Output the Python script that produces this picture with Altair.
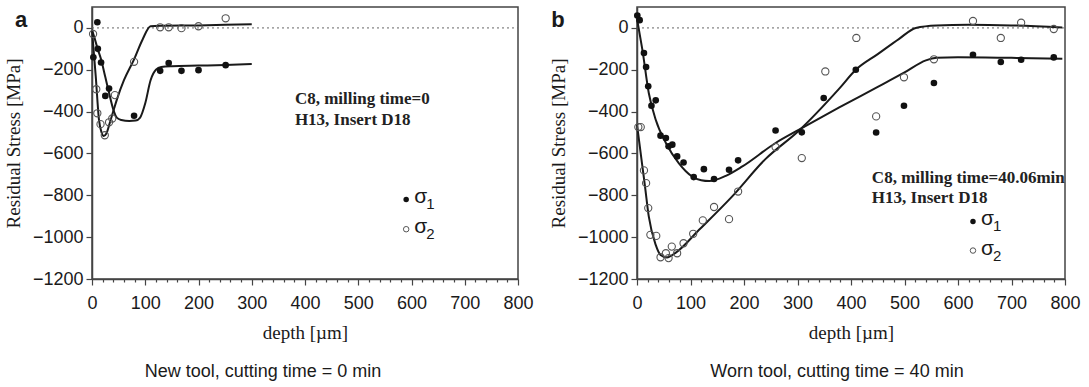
import altair as alt
import pandas as pd

# ---------------- Panel a: new tool ----------------
a_s1_depth = [2.5, 10, 11, 17, 25, 32, 79, 128, 144, 168, 200, 251]
a_s1_stress = [-140, 27, -100, -165, -325, -290, -420, -205, -168, -205, -202, -178]
a_s2_depth = [2, 8, 10, 16, 24, 32, 38, 43, 79, 128, 144, 168, 200, 251]
a_s2_stress = [-29, -293, -408, -460, -513, -451, -433, -321, -162, 3, 3, -1, 8, 46]

a_f1_depth = [0, 5, 10, 17, 25, 32, 40, 47, 55, 70, 82, 90, 100, 110, 120, 130, 150, 200, 250, 300]
a_f1_stress = [-10, -50, -95, -150, -235, -310, -390, -430, -440, -445, -443, -430, -360, -250, -200, -187, -183, -180, -177, -172]
a_f2_depth = [0, 7, 13, 18, 22, 27, 35, 47, 60, 79, 95, 110, 130, 200, 250, 300]
a_f2_stress = [-10, -230, -437, -500, -517, -505, -440, -340, -250, -150, -55, 8, 10, 12, 15, 18]

# ---------------- Panel b: worn tool ----------------
b_s1_depth = [0.6, 5, 13, 17, 21, 27, 35, 44, 54, 59, 66, 75, 87, 106, 125, 144, 172, 189,
              259, 308, 349, 409, 447, 499, 555, 628, 680, 718, 779]
b_s1_stress = [59, 37, -120, -187, -279, -372, -346, -515, -526, -566, -558, -614, -643, -713,
               -675, -722, -678, -633, -490, -499, -335, -200, -500, -372, -263, -128, -163, -152, -141]
b_s2_depth = [2.5, 7, 13, 17, 21, 25, 36, 44, 54, 59, 65, 75, 87, 105, 123, 144, 172, 189,
              259, 308, 352, 410, 447, 499, 555, 628, 680, 718, 779]
b_s2_stress = [-474, -474, -681, -742, -861, -989, -994, -1096, -1077, -1100, -1045, -1077, -1029,
               -984, -920, -856, -914, -782, -569, -622, -208, -48, -423, -236, -150, 33, -48, 25, -5]

b_f1_depth = [0, 5, 10, 22, 35, 54, 78, 103, 120, 135, 166, 197, 259, 303, 378, 450, 500, 540, 560, 600, 700, 795]
b_f1_stress = [45, -30, -104, -311, -439, -550, -646, -710, -728, -732, -707, -662, -550, -486,
               -380, -282, -213, -155, -143, -140, -143, -147]
b_f2_depth = [0, 10, 15, 22, 35, 44, 56, 72, 116, 178, 240, 303, 378, 409, 450, 490, 521, 560, 620, 700, 795]
b_f2_stress = [-462, -660, -758, -901, -1037, -1085, -1097, -1075, -965, -805, -627, -490, -290,
               -200, -125, -52, 0, 12, 15, 12, 2]

# annotations (data coordinates)
a_note_lines = ["C8, milling time=0", "H13, Insert D18"]
a_note_depth = [381, 381]
a_note_stress = [-340, -441]
a_leg_depth, a_leg_text_depth, a_leg_stress = 590, 605, [-820, -962]

b_note_lines = ["C8, milling time=40.06min", "H13, Insert D18"]
b_note_depth = [439, 439]
b_note_stress = [-716, -812]
b_leg_depth, b_leg_text_depth, b_leg_stress = 628, 643, [-925, -1064]

x_ticks = list(range(0, 801, 20))
y_ticks = list(range(-1200, 1, 200))

SANS = "Liberation Sans"
SERIF = "Liberation Serif"
INK = "#1a1a1a"
AXC = "#444444"

XS = alt.Scale(domain=[0, 800], nice=False, zero=False)
YS = alt.Scale(domain=[-1200, 100], nice=False, zero=False)
XAX = alt.Axis(values=x_ticks, labelExpr="datum.value % 100 === 0 ? datum.label : ''",
               tickSize={"condition": {"test": "datum.value % 100 === 0", "value": 6}, "value": 3},
               labelOverlap=False, labelFlush=False, grid=False, format="d",
               labelFont=SANS, labelFontSize=18, labelColor=INK, labelPadding=9,
               title="depth [µm]", titleFont=SERIF, titleFontSize=19, titleFontWeight="normal",
               titleColor=INK, titlePadding=11, domainColor=AXC, tickColor=AXC,
               domainWidth=1.5, tickWidth=1.2)
YAX = alt.Axis(values=y_ticks, grid=False, format="d", labelFont=SANS, labelFontSize=18,
               labelColor=INK, labelPadding=3, tickSize=6, labelOverlap=False,
               title="Residual Stress [MPa]", titleFont=SERIF,
               titleFontSize=19, titleFontWeight="normal", titleColor=INK, titlePadding=9,
               domainColor=AXC, tickColor=AXC, domainWidth=1.5, tickWidth=1.2)


def xy(field_x="depth", field_y="stress"):
    return dict(x=alt.X(f"{field_x}:Q", scale=XS, axis=XAX),
                y=alt.Y(f"{field_y}:Q", scale=YS, axis=YAX))


def panel(letter, subtitle, sub_dx, width, s1d, s1v, s2d, s2v, f1d, f1v, f2d, f2v,
          note_lines, note_d, note_v, leg_d, leg_td, leg_v, letter_x, letter_y):
    pts1 = pd.DataFrame({"depth": s1d, "stress": s1v})
    pts2 = pd.DataFrame({"depth": s2d, "stress": s2v})
    fit1 = pd.DataFrame({"depth": f1d, "stress": f1v})
    fit2 = pd.DataFrame({"depth": f2d, "stress": f2v})

    zero = alt.Chart(pd.DataFrame({"depth": [0, 800], "stress": [0, 0]})).mark_line(
        color="#666666", strokeDash=[2, 3], strokeWidth=1
    ).encode(**xy())

    l1 = alt.Chart(fit1).mark_line(color=INK, strokeWidth=2, interpolate="monotone").encode(**xy())
    l2 = alt.Chart(fit2).mark_line(color=INK, strokeWidth=2, interpolate="monotone").encode(**xy())

    p2 = alt.Chart(pts2).mark_point(shape="circle", filled=False, color="#555555",
                                    strokeWidth=1.1, size=52, opacity=1).encode(**xy())
    p1 = alt.Chart(pts1).mark_point(shape="circle", filled=True, color="#111111",
                                    size=44, opacity=1).encode(**xy())

    notes = alt.Chart(pd.DataFrame({"depth": note_d, "stress": note_v, "t": note_lines})).mark_text(
        align="left", baseline="middle", font=SERIF, fontSize=17, fontWeight="bold", color="#222222"
    ).encode(text="t:N", **xy())

    leg_f = alt.Chart(pd.DataFrame({"depth": [leg_d], "stress": [leg_v[0]]})).mark_point(
        shape="circle", filled=True, color="#111111", size=30, opacity=1
    ).encode(**xy())
    leg_o = alt.Chart(pd.DataFrame({"depth": [leg_d], "stress": [leg_v[1]]})).mark_point(
        shape="circle", filled=False, color="#555555", strokeWidth=1, size=30, opacity=1
    ).encode(**xy())
    leg_sig = alt.Chart(pd.DataFrame({"depth": [leg_td, leg_td], "stress": leg_v,
                                      "t": ["σ", "σ"]})).mark_text(
        align="left", baseline="middle", font=SANS, fontSize=21, color=INK, dy=-2
    ).encode(text="t:N", **xy())
    leg_sub = alt.Chart(pd.DataFrame({"depth": [leg_td, leg_td], "stress": leg_v,
                                      "t": ["1", "2"]})).mark_text(
        align="left", baseline="middle", font=SANS, fontSize=15, color=INK, dx=12, dy=5
    ).encode(text="t:N", **xy())

    lab = alt.Chart(pd.DataFrame({"t": [letter]})).mark_text(
        align="center", baseline="alphabetic", font=SANS, fontSize=22, fontWeight="bold", color=INK
    ).encode(x=alt.value(letter_x), y=alt.value(letter_y), text="t:N")

    return alt.layer(zero, l1, l2, p2, p1, notes, leg_f, leg_o, leg_sig, leg_sub, lab).properties(
        width=width, height=272,
        title=alt.TitleParams(subtitle, orient="bottom", anchor="middle", frame="group", dx=sub_dx,
                              offset=21, font=SANS, fontSize=18, fontWeight="normal", color=INK),
    )


pa = panel("a", "New tool, cutting time = 0 min", -42, 426,
           a_s1_depth, a_s1_stress, a_s2_depth, a_s2_stress,
           a_f1_depth, a_f1_stress, a_f2_depth, a_f2_stress,
           a_note_lines, a_note_depth, a_note_stress, a_leg_depth, a_leg_text_depth, a_leg_stress,
           -71, 20)
pb = panel("b", "Worn tool, cutting time = 40 min", -14, 428,
           b_s1_depth, b_s1_stress, b_s2_depth, b_s2_stress,
           b_f1_depth, b_f1_stress, b_f2_depth, b_f2_stress,
           b_note_lines, b_note_depth, b_note_stress, b_leg_depth, b_leg_text_depth, b_leg_stress,
           -79, 20)

chart = alt.hconcat(pa, pb, spacing=119, bounds="flush").properties(
    padding={"left": 3, "top": 6, "right": 5, "bottom": 2},
    background="white",
).configure_view(stroke=AXC, strokeWidth=1.5)

chart.save("out.html", embed_options={"renderer": "svg", "actions": False})
